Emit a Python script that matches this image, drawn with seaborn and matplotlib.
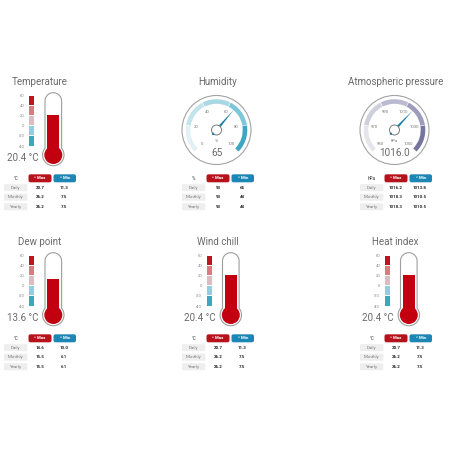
import numpy as np
import matplotlib
matplotlib.use("Agg")
import matplotlib.pyplot as plt
from matplotlib.patches import Polygon, Ellipse, Wedge, Circle, FancyBboxPatch
import seaborn as sns

sns.set_theme(style="white")
plt.rcParams['font.family'] = ['Roboto', 'DejaVu Sans']

# ---------------- data ----------------
titles = ["Temperature", "Humidity", "Atmospheric pressure",
          "Dew point", "Wind chill", "Heat index"]
kinds = ["thermo", "gauge", "gauge", "thermo", "thermo", "thermo"]
units = ["°C", "%", "hPa", "°C", "°C", "°C"]
current = [20.4, 65, 1016.0, 13.6, 20.4, 20.4]
current_text = ["20.4 °C", "65", "1016.0", "13.6 °C", "20.4 °C", "20.4 °C"]
periods = ["Daily", "Monthly", "Yearly"]
max_vals = [["20.7", "26.2", "26.2"], ["93", "93", "93"], ["1016.2", "1018.3", "1018.3"],
            ["14.6", "15.5", "15.5"], ["20.7", "26.2", "26.2"], ["20.7", "26.2", "26.2"]]
min_vals = [["11.3", "7.5", "7.5"], ["65", "44", "44"], ["1013.8", "1010.5", "1010.5"],
            ["10.0", "6.1", "6.1"], ["11.3", "7.5", "7.5"], ["11.3", "7.5", "7.5"]]

thermo_edges = [60, 40, 20, 0, -20, -40]
thermo_colors = ["#c0141c", "#dc7a80", "#dcbcc0", "#90cfe2", "#3ca7c0"]
hum_ticks = [0, 20, 40, 60, 80, 100]
hum_colors = ["#e2f1f5", "#c4e4ec", "#a9d8e5", "#7ec6d9", "#3ea6c2"]
pres_ticks = [950, 970, 990, 1010, 1030, 1050]
pres_colors = ["#e4e4ea", "#d0d0dc", "#babad0", "#9d9dbb", "#75759d"]

# ---------------- layout ----------------
W = H = 450
fig = plt.figure(figsize=(4.5, 4.5), dpi=100)
fig.patch.set_facecolor("white")

def add_ax(x, y, w, h):
    ax = fig.add_axes([x / W, 1 - (y + h) / H, w / W, h / H])
    ax.set_facecolor("none")
    return ax

over = add_ax(0, 0, W, H)
over.set_xlim(0, W)
over.set_ylim(H, 0)
over.axis("off")

col_off = [0, 177.5, 355.5]
row_off = [0, 160]
TITLE_C = "#6a6a6a"
RED = "#b5121b"
BLUE = "#1c86b4"
NEEDLE = "#1a7ea6"

PXD = 0.51  # pixels per degree on thermometer


def thermometer(ox, oy, value):
    zero_py = 125.7 + oy
    top_py, bot_py = 92.0 + oy, 166.5 + oy
    ax = add_ax(ox + 26, top_py, 40, bot_py - top_py)
    ax.set_xlim(26, 66)
    ax.set_ylim((zero_py - bot_py) / PXD, (zero_py - top_py) / PXD)
    for s in ax.spines.values():
        s.set_visible(False)
    ax.set_xticks([])
    ax.set_yticks(thermo_edges)
    ax.set_yticklabels([str(t) for t in thermo_edges])
    ax.tick_params(axis="y", length=0, pad=1, labelsize=3, labelcolor="#8a8a8a")
    ax.grid(False)

    gap = 1.6
    for i, c in enumerate(thermo_colors):
        hi, lo = thermo_edges[i], thermo_edges[i + 1]
        ax.bar(31.5, (hi - lo) - gap, bottom=lo + gap / 2, width=5, color=c, linewidth=0)

    def deg(py):
        return (zero_py - py) / PXD

    cx, w, r = 53.3, 8.3, 10.7
    topc_py = 101.0 + oy
    bulb_py = 155.0 + oy
    pts = []
    for a in np.linspace(np.pi, 0, 40):
        pts.append((cx + w * np.cos(a), deg(topc_py - w * np.sin(a))))
    h = np.sqrt(r ** 2 - w ** 2)
    a0 = np.arctan2(h, w)
    for a in np.linspace(a0, -np.pi - a0, 80):
        pts.append((cx + r * np.cos(a), deg(bulb_py - r * np.sin(a))))
    ax.add_patch(Polygon(pts, closed=True, facecolor="white", edgecolor="#9e9e9e", lw=0.8, zorder=2))

    base = deg(bulb_py)
    ax.bar(cx, value - base, bottom=base, width=12, color="#c20010", linewidth=0, zorder=3)
    ri = 9.0
    ax.add_patch(Ellipse((cx, base), 2 * ri, 2 * ri / PXD, facecolor="#c20010", lw=0, zorder=3))


def gauge(ox, oy, value, ticks, colors, unit, vtext):
    cxp, cyp = ox + 39, oy + 130
    ax = add_ax(cxp - 37, cyp - 37, 74, 74)
    ax.set_xlim(-37, 37)
    ax.set_ylim(-37, 37)
    ax.axis("off")
    lo, hi = ticks[0], ticks[-1]

    def ang(v):
        return 225 - 270 * (v - lo) / (hi - lo)

    ax.add_patch(Circle((0, 0), 34.5, facecolor="white", edgecolor="#a3a3a3", lw=0.8))
    g = 1.2
    for i, c in enumerate(colors):
        ax.add_patch(Wedge((0, 0), 30.8, ang(ticks[i + 1]) + g / 2, ang(ticks[i]) - g / 2,
                           width=4.6, facecolor=c, lw=0))
    for t in ticks:
        a = np.radians(ang(t))
        ax.text(20.3 * np.cos(a), 20.3 * np.sin(a), str(t), ha="center", va="center",
                fontsize=3, color="#777777")
    a = np.radians(ang(value))
    L = 26.5
    ux, uy = np.cos(a), np.sin(a)
    px, py = -uy, ux
    hw = 1.4
    ax.add_patch(Polygon([(px * hw, py * hw), (L * ux, L * uy), (-px * hw, -py * hw)],
                         closed=True, facecolor=NEEDLE, lw=0, zorder=3))
    ax.add_patch(Circle((0, 0), 5.0, facecolor="white", edgecolor="#7a7a7a", lw=0.7, zorder=4))
    ax.add_patch(Circle((-5.2 * ux, -5.2 * uy), 1.2, facecolor=NEEDLE, lw=0, zorder=5))
    ax.text(0, -11.5, unit, ha="center", va="center", fontsize=3.2, color="#777777")
    ax.text(0, -23.3, vtext, ha="center", va="center", fontsize=7.2, color=TITLE_C, zorder=6)


def table(ox, oy, unit, maxs, mins):
    hy = 178.3 + oy
    over.text(ox + 15.7, hy, unit, ha="center", va="center", fontsize=3.3, color="#333333")
    for x0, x1, c, lab in [(28.5, 51.5, RED, "\u02c4 Max"), (53.5, 76.0, BLUE, "\u02c5 Min")]:
        over.add_patch(FancyBboxPatch((ox + x0 + 2, hy - 2.0), (x1 - x0) - 4, 4.0,
                                      boxstyle="round,pad=2", facecolor=c, lw=0))
        over.text(ox + (x0 + x1) / 2, hy, lab, ha="center", va="center", fontsize=3.2,
                  color="white", fontweight="bold")
    for i, p in enumerate(periods):
        y = 187.7 + oy + i * 9.5
        over.add_patch(FancyBboxPatch((ox + 5.0, y - 2.5), 21.3, 5.0,
                                      boxstyle="round,pad=1", facecolor="#eeeeee", lw=0))
        over.text(ox + 15.7, y, p, ha="center", va="center", fontsize=3.2, color="#7a7a7a")
        over.text(ox + 40, y, maxs[i], ha="center", va="center", fontsize=3.2,
                  color="#222222", fontweight="bold")
        over.text(ox + 64, y, mins[i], ha="center", va="center", fontsize=3.2,
                  color="#222222", fontweight="bold")


for k in range(6):
    r, c = divmod(k, 3)
    ox, oy = col_off[c], row_off[r]
    over.text(ox + 40, 82 + oy, titles[k], ha="center", va="center", fontsize=7.0,
              color=TITLE_C)
    if kinds[k] == "thermo":
        thermometer(ox, oy, current[k])
        over.text(ox + 38.5, 158.3 + oy, current_text[k], ha="right", va="center",
                  fontsize=7, color=TITLE_C)
    else:
        if k == 1:
            gauge(ox, oy, current[k], hum_ticks, hum_colors, units[k], current_text[k])
        else:
            gauge(ox, oy, current[k], pres_ticks, pres_colors, units[k], current_text[k])
    table(col_off[c] + (0.5 if c > 0 else 0), oy, units[k], max_vals[k], min_vals[k])

fig.savefig("out.png", dpi=100, facecolor="white")
